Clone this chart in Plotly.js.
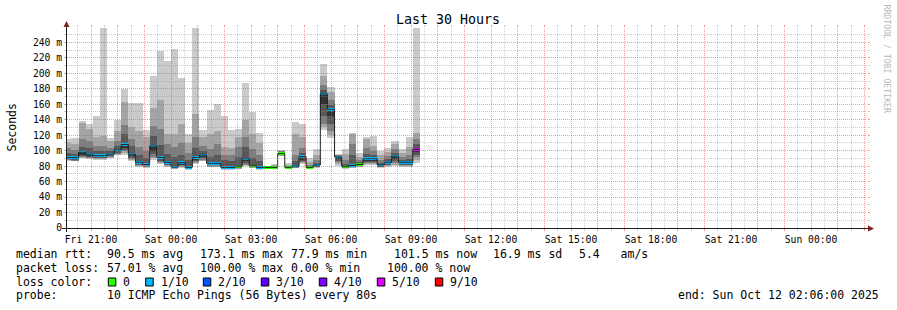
<!DOCTYPE html>
<html><head><meta charset="utf-8">
<script src="https://cdn.plot.ly/plotly-3.0.1.min.js"></script>
<style>html,body{margin:0;padding:0;background:#fff;}#chart{width:897px;height:310px;}</style>
</head><body><div id="chart"></div>
<script>
// ---- data: 16-minute consolidated steps starting Fri 2025-10-10 20:00 ----
const stepStartUTC = Date.UTC(2025, 9, 10, 20, 0, 0);
const stepMinutes = 16;
// sorted ping times per step (ms), rank 1 (fastest) .. rank 10 (slowest)
const ping1 = [87,86,90,89,88,88,90,94,95,87, 79,78,88,83,79.5,76,78,75.5,83,86, 79,79,75.5,75.5,76,80,77.5,75.5,77.2,77.2, 93,77.2,77,83,77.2,78,127,117,80,76.5, 77.5,79,82,82,78,79,80,79,79,84];
const ping2 = [87.5,86.5,91,90,89,89,91,95,97,88, 80,78.5,90,84,80,76.5,79,76,84,87, 79.5,79.5,76,76,76.5,81,78,76,77.4,77.4, 93.5,77.4,77.5,84,77.4,78.5,131,120,83,77, 78,79.5,83,83,78.5,80,82,80,80,88];
const ping3 = [88,87,92,91,90,90,92,96,99,89, 81,79,92,85,81,77,80,76.5,85,88, 80,80,76.5,76.5,77,82,78.5,76.5,77.6,77.6, 94,77.6,78,85,77.6,79,135,125,85,77.5, 78.5,80,84,84,79,81,84,81,81,92];
const ping4 = [89,88,93,92,91,91,93,97,101,91, 82,80,96,87,82,77.5,81,77,86,90, 81,81,77,77,77.5,84,79,77,77.8,77.8, 94.5,77.8,78.5,86,77.8,79.5,145,135,87,78, 79,80.5,85.5,85,79.5,82,86,82,82,95];
const ping5 = [90,89,95,93,92,92,94,99,104,93, 83,80.5,100,89,83,78,82,77.5,88,92, 82,82,77.5,77.5,78,86,79.5,77.5,78,78, 95,78,79,88,78,80,160,145,89,78.5, 79.5,81,87,87,80,83,89,83,83,98];
const ping6 = [91,91,98,95.5,93.5,93.5,95.5,101,108,95.5, 85,82,106,91.3,84.9,78.8,84.5,78.4,91.3,94.4, 83.6,83.6,78.4,78.4,79.2,89.5,80.5,78.4,78.4,78.4, 96.1,78.4,80.1,92.2,78.4,81.5,173.3,153.4,91.8,79.2, 80.8,82.1,89.6,89.6,81.6,85,92.9,85,85,101.7];
const ping7 = [97,96,105,104,99,99,99,106,121,106, 95,90,119,107,96,92,95,88,104,100, 92,95,88,87,92,105,90,86,79,79, 98,79.5,86,97,80,84,178,159,93,83, 95,85,96,95,84,89,97,88,89,108];
const ping8 = [103,101,115,112,106,106,104,113,133,115, 105,100,132,128,108,105,110,97,118,106, 102,108,95,94,105,118,102,95,79.5,80, 99,80.5,95,104,82,88,185,165,94,88, 108,88,104,100,88,93,102,92,95,115];
const ping9 = [110,108,136,128,118,119,112,125,163,130, 125,118,155,166,121,122,135,110,148,118, 122,126,105,104,118,140,122,110,80,81, 100,82,121.5,118,85,95,197,176,95,96, 121,92,115.5,106,94,98,108,97,105,123];
const ping10 = [115,117,138,135,145,259,117,140,179.5,162, 161,127,197,229,216,232,194,121.7,259,127, 152,160.6,145,127,128.4,188,150,123,80.5,82.5, 101.5,84,136.5,134,90,102.5,211.5,182,96,102, 123,97.5,117.5,119,100,103,112,102,117.5,259];
const median = [91,91,98,95.5,93.5,93.5,95.5,101,108,95.5, 85,82,106,91.3,84.9,78.8,84.5,78.4,91.3,94.4, 83.6,83.6,78.4,78.4,79.2,89.5,80.5,78.4,78.4,78.4, 96.1,78.4,80.1,92.2,78.4,81.5,173.3,153.4,91.8,79.2, 80.8,82.1,89.6,89.6,81.6,85,92.9,85,85,101.7];
// lost pings out of 10 (consolidated)
const lossTenths = [1,1,1,1,1,1,1,1,1,1, 1,1,1,1,1,1,1,1,1,1, 1,1,1,1,0,1,0,1,0,0, 0,0,1,1,0,1,1,1,1,0, 1,0,1,1,1,1,1,1,1,5];

const yTickValues = [0,20,40,60,80,100,120,140,160,180,200,220,240];
const yTickLabels = ['0','20 m','40 m','60 m','80 m','100 m','120 m','140 m','160 m','180 m','200 m','220 m','240 m'];
const xLabelTimes = ['2025-10-10 21:00','2025-10-11 00:00','2025-10-11 03:00','2025-10-11 06:00','2025-10-11 09:00','2025-10-11 12:00','2025-10-11 15:00','2025-10-11 18:00','2025-10-11 21:00','2025-10-12 00:00'];
const xLabelTexts = ['Fri 21:00','Sat 00:00','Sat 03:00','Sat 06:00','Sat 09:00','Sat 12:00','Sat 15:00','Sat 18:00','Sat 21:00','Sun 00:00'];
const lossLegendLabels = ['0','1/10','2/10','3/10','4/10','5/10','9/10'];
const lossLegendLevels = [0,1,2,3,4,5,9];
const lossLegendColors = ['#26ff00','#00b8ff','#0059ff','#5e00ff','#7e00ff','#dd00ff','#ff0000'];

// ---- helpers ----
const STEP = stepMinutes*60*1000;
const HOUR = 3600*1000;
function iso(ms){ return new Date(ms).toISOString().replace('T',' ').slice(0,19); }
function ms(s){ return Date.parse(s.replace(' ','T')+ (s.length===16?':00':'') + 'Z'); }
const n = median.length;
const rangeStart = '2025-10-10 20:06:00', rangeEnd = '2025-10-12 02:06:00';
const Y_MAX = 258.6;
const PL = 67, PW = 800, PT = 28, PH = 200;
const stepCenters = median.map((_, k) => iso(stepStartUTC + k*STEP + STEP/2));
const stepEdges = median.map((_, k) => iso(stepStartUTC + k*STEP)).concat([iso(stepStartUTC + n*STEP)]);
function lossColor(l){
  for (let i=0;i<lossLegendLevels.length;i++){ if (l <= lossLegendLevels[i]) return lossLegendColors[i]; }
  return lossLegendColors[lossLegendColors.length-1];
}
const px2x = p => (p-PL)/PW, py2y = p => (PT+PH-p)/PH;
const tPix = t => PL + (t - ms(rangeStart)) / (ms(rangeEnd) - ms(rangeStart)) * PW;
const vPix = v => PT + PH - v / Y_MAX * PH;
const FONT = 'DejaVu Sans Mono';
const MGRID = 'rgba(235,70,70,0.55)', GRID = 'rgba(140,140,140,0.45)';

// ---- traces ----
const pings = [ping1,ping2,ping3,ping4,ping5,ping6,ping7,ping8,ping9,ping10];
const smokeColors = ['#cacaca','#a4a4a4','#7e7e7e','#585858','#323232'];
const traces = [];
for (let i=0;i<5;i++){
  const lo = pings[i], hi = pings[9-i];
  traces.push({type:'bar', x: stepCenters, base: lo, y: hi.map((v,k)=>v-lo[k]), width: STEP,
    marker:{color: smokeColors[i], line:{width:0}}, hoverinfo:'skip'});
}
traces.push({type:'scatter', mode:'lines', x: stepEdges, y: median.concat([median[n-1]]),
  line:{shape:'hv', color:'#202020', width:1}, hoverinfo:'skip'});
traces.push({type:'bar', x: stepCenters, base: median.map(v=>v-1.6), y: median.map(()=>3.2), width: STEP,
  marker:{color: lossTenths.map(lossColor), line:{width:0}}, hoverinfo:'skip'});

// ---- grid / axes as shapes (rrdtool draws the grid over the graph), snapped to pixel centres ----
const shapes = [];
const hourTicks = [], halfTicks = [];
for (let t = ms('2025-10-10 20:30'); t <= ms('2025-10-12 02:00'); t += HOUR/2){
  const isHour = ((t / (HOUR/2)) % 2) === 0;
  (isHour ? hourTicks : halfTicks).push(iso(t));
  const xp = px2x(Math.floor(tPix(t)) + 0.5);
  shapes.push({type:'line', xref:'paper', yref:'paper', x0: xp, x1: xp, y0: py2y(PT+PH), y1: py2y(PT), layer:'above',
    line:{color: isHour?MGRID:GRID, width:1, dash:'1px,1px'}});
}
const yMinor = [];
for (let v = 10; v <= 250; v += 10){
  const major = v % 20 === 0;
  if (!major) yMinor.push(v);
  const yp = py2y(Math.floor(vPix(v)) + 0.5);
  shapes.push({type:'line', xref:'paper', yref:'paper', x0: px2x(PL), x1: px2x(PL+PW), y0: yp, y1: yp, layer:'above',
    line:{color: major?MGRID:GRID, width:1, dash:'1px,1px'}});
}
shapes.push({type:'line', xref:'paper', yref:'paper', x0: px2x(62), x1: px2x(869), y0: py2y(228.5), y1: py2y(228.5), layer:'above', line:{color:'#1f1f1f', width:1}});
shapes.push({type:'line', xref:'paper', yref:'paper', x0: px2x(66.5), x1: px2x(66.5), y0: py2y(232), y1: py2y(26), layer:'above', line:{color:'#1f1f1f', width:1}});
shapes.push({type:'path', xref:'paper', yref:'paper', layer:'above', fillcolor:'#7f1f1f', line:{width:0},
  path:`M ${px2x(868)} ${py2y(225.5)} L ${px2x(874)} ${py2y(228.5)} L ${px2x(868)} ${py2y(231.5)} Z`});
shapes.push({type:'path', xref:'paper', yref:'paper', layer:'above', fillcolor:'#7f1f1f', line:{width:0},
  path:`M ${px2x(63.5)} ${py2y(27)} L ${px2x(66.5)} ${py2y(21)} L ${px2x(69.5)} ${py2y(27)} Z`});

// ---- legend text (rrdtool style) ----
const ann = [];
function txt(s, x, y, opts){
  ann.push(Object.assign({text: s, xref:'paper', yref:'paper', x: px2x(x), y: py2y(y), xanchor:'left', yanchor:'middle',
    showarrow:false, borderpad:0, borderwidth:0, font:{family:FONT, size:11.5, color:'#000'}}, opts||{}));
}
txt('median rtt:', 16, 254.3); txt('90.5 ms avg', 107.3, 254.3); txt('173.1 ms max', 200.3, 254.3);
txt('77.9 ms min', 291.3, 254.3); txt('101.5 ms now', 394, 254.3); txt('16.9 ms sd', 493.3, 254.3); txt('5.4   am/s', 579.3, 254.3);
txt('packet loss:', 16, 267.7); txt('57.01 % avg', 107.3, 267.7); txt('100.00 % max', 200.3, 267.7);
txt('0.00 % min', 291.3, 267.7); txt('100.00 % now', 386.7, 267.7);
txt('loss color:', 16, 281.7);
const boxX = [108.3,145.7,203.3,261.3,319.3,377.3,435.3];
const labX = [123.3,160.7,218.3,276,334.3,391.7,450];
lossLegendLabels.forEach((lab,i)=>{
  shapes.push({type:'rect', xref:'paper', yref:'paper', x0: px2x(boxX[i]), x1: px2x(boxX[i]+7.5), y0: py2y(278), y1: py2y(286),
    fillcolor: lossLegendColors[i], line:{color:'#000', width:1}, layer:'above'});
  txt(lab, labX[i], 281.7);
});
txt('probe:', 16, 295.3); txt('10 ICMP Echo Pings (56 Bytes) every 80s', 107.3, 295.3);
txt('end: Sun Oct 12 02:06:00 2025', 678.3, 295.3);
txt('Last 30 Hours', 448, 19, {xanchor:'center', font:{family:FONT, size:13.3, color:'#000'}});
txt('Seconds', 11, 127.5, {xanchor:'center', textangle:-90, font:{family:FONT, size:11.5, color:'#000'}});
txt('RRDTOOL / TOBI OETIKER', 886, 58.5, {xanchor:'center', textangle:90, font:{family:FONT, size:8.2, color:'#b8b8b8'}});

// ---- layout ----
const layout = {
  width: 897, height: 310, margin:{l:PL, r:897-PL-PW, t:PT, b:310-PT-PH, pad:0},
  paper_bgcolor:'#ffffff', plot_bgcolor:'#ffffff', showlegend:false, barmode:'overlay', bargap:0, hovermode:false,
  xaxis:{type:'date', range:[rangeStart, rangeEnd], tickmode:'array',
    tickvals: hourTicks, ticktext: hourTicks.map(t => { const i = xLabelTimes.indexOf(t.slice(0,16)); return i>=0 ? xLabelTexts[i] : ''; }),
    ticks:'outside', ticklen:2, tickcolor:MGRID, tickwidth:1, mirror:'ticks',
    minor:{tickmode:'array', tickvals: halfTicks, ticks:'outside', ticklen:2, tickcolor:GRID, showgrid:false},
    showgrid:false, zeroline:false, showline:false, fixedrange:true,
    tickfont:{family:FONT, size:9.7, color:'#000'}},
  yaxis:{range:[0, Y_MAX], tickmode:'array', tickvals: yTickValues, ticktext: yTickLabels,
    ticks:'outside', ticklen:2, tickcolor:MGRID, tickwidth:1, mirror:'ticks',
    minor:{tickmode:'array', tickvals: yMinor, ticks:'outside', ticklen:2, tickcolor:GRID, showgrid:false},
    showgrid:false, zeroline:false, showline:false, fixedrange:true,
    tickfont:{family:FONT, size:9.7, color:'#000'}},
  shapes: shapes, annotations: ann
};
Plotly.newPlot('chart', traces, layout, {displayModeBar:false, staticPlot:true});
</script></body></html>
